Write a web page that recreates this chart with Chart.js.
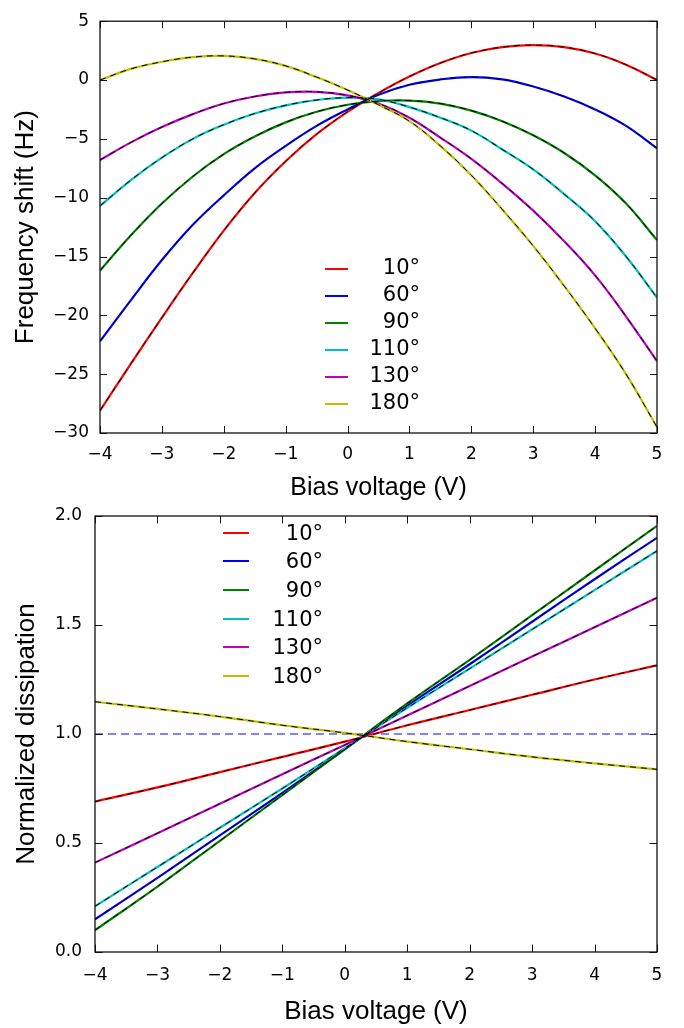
<!DOCTYPE html>
<html><head><meta charset="utf-8">
<script src="https://cdn.jsdelivr.net/npm/chart.js@4.4.1/dist/chart.umd.min.js"></script>
<style>
html,body{margin:0;padding:0;background:#fff;}
#wrap{position:relative;width:684px;height:1028px;overflow:hidden;background:#fff;}
canvas{position:absolute;left:0;top:0;}
.lg-line{position:absolute;height:2px;}
.lg-text{position:absolute;font-family:'DejaVu Sans',sans-serif;font-size:21px;line-height:24px;color:#000;text-align:right;white-space:nowrap;}
</style></head><body>
<div id="wrap">
<canvas id="c1" width="684" height="1028"></canvas>
<canvas id="c2" width="684" height="1028"></canvas>
</div>
<script>
// ---- series labels / colours ----
const angles = ['10°', '60°', '90°', '110°', '130°', '180°'];
const colors = ['#ff0000', '#0000ff', '#008000', '#00bfbf', '#bf00bf', '#bfbf00'];

// ---- top panel: frequency shift (Hz) vs bias voltage (V) ----
const biasTop = [-4, -3.5, -3, -2.5, -2, -1.5, -1, -0.5, 0, 0.5, 1, 1.5, 2, 2.5, 3, 3.5, 4, 4.5, 5];
const shift10  = [-28.1, -24.1, -20.2, -16.4, -12.8, -9.6, -6.9, -4.6, -2.7, -1.1, 0.3, 1.45, 2.3, 2.8, 2.97, 2.8, 2.25, 1.3, 0.0];
const shift60  = [-22.2, -18.7, -15.3, -12.3, -9.8, -7.5, -5.6, -3.9, -2.5, -1.25, -0.4, 0.05, 0.25, 0.05, -0.55, -1.4, -2.5, -3.9, -5.8];
const shift90  = [-16.2, -13.2, -10.5, -8.2, -6.3, -4.8, -3.6, -2.7, -2.1, -1.8, -1.75, -2.0, -2.6, -3.5, -4.7, -6.2, -8.1, -10.5, -13.6];
const shift110 = [-10.7, -8.5, -6.6, -5.0, -3.8, -2.85, -2.15, -1.7, -1.5, -1.65, -2.3, -3.2, -4.3, -5.9, -7.6, -9.7, -12.0, -15.0, -18.5];
const shift130 = [-6.8, -5.3, -4.0, -2.9, -2.0, -1.4, -1.05, -1.0, -1.3, -2.0, -3.2, -4.9, -6.7, -8.8, -11.1, -13.7, -16.6, -20.1, -23.9];
const shift180 = [0.0, 0.95, 1.55, 1.95, 2.05, 1.8, 1.2, 0.25, -0.85, -2.1, -3.5, -5.6, -8.1, -11.0, -14.1, -17.5, -21.1, -25.0, -29.5];
const shiftTicks = [-30, -25, -20, -15, -10, -5, 0, 5];

// ---- bottom panel: normalized dissipation vs bias voltage (V) ----
const biasBottom = [-4, -3, -2, -1, 0, 1, 2, 3, 4, 5];
const diss10  = [0.69, 0.755, 0.825, 0.895, 0.965, 1.04, 1.11, 1.18, 1.25, 1.315];
const diss60  = [0.15, 0.34, 0.535, 0.73, 0.93, 1.13, 1.32, 1.515, 1.71, 1.90];
const diss90  = [0.10, 0.30, 0.51, 0.72, 0.93, 1.14, 1.34, 1.545, 1.75, 1.955];
const diss110 = [0.21, 0.39, 0.57, 0.75, 0.935, 1.12, 1.30, 1.48, 1.66, 1.84];
const diss130 = [0.41, 0.545, 0.68, 0.815, 0.95, 1.085, 1.22, 1.355, 1.49, 1.625];
const diss180 = [1.148, 1.115, 1.08, 1.04, 1.005, 0.965, 0.93, 0.895, 0.865, 0.838];
const refBias = [-4, 5];
const refLevel = [1.0, 1.0];
const voltTicks = [-4, -3, -2, -1, 0, 1, 2, 3, 4, 5];

const topSeries = [shift10, shift60, shift90, shift110, shift130, shift180];
const botSeries = [diss10, diss60, diss90, diss110, diss130, diss180];

function pts(xs, ys) { return xs.map((x, i) => ({x: x, y: ys[i]})); }
function minus(v) { return v < 0 ? '\u2212' + Math.abs(v) : String(v); }

const frameTicks = {
  id: 'frameTicks',
  afterDatasetsDraw(chart, args, opts) {
    const ctx = chart.ctx;
    const {left, right, top, bottom} = chart.chartArea;
    const xs = chart.scales.x, ys = chart.scales.y;
    const L = opts.len || 7;
    ctx.save();
    ctx.strokeStyle = '#111';
    ctx.lineWidth = 1;
    ctx.beginPath();
    xs.ticks.forEach(t => {
      const p = Math.round(xs.getPixelForValue(t.value)) + 0.5;
      ctx.moveTo(p, bottom); ctx.lineTo(p, bottom - L);
      ctx.moveTo(p, top); ctx.lineTo(p, top + L);
    });
    ys.ticks.forEach(t => {
      const p = Math.round(ys.getPixelForValue(t.value)) + 0.5;
      ctx.moveTo(left, p); ctx.lineTo(left + L, p);
      ctx.moveTo(right, p); ctx.lineTo(right - L, p);
    });
    ctx.stroke();
    ctx.lineWidth = 1.3;
    ctx.strokeRect(left, top, right - left, bottom - top);
    ctx.restore();
  }
};

function buildDatasets(xs, series) {
  const ds = [];
  series.forEach((ys, i) => {
    ds.push({label: angles[i], data: pts(xs, ys), borderColor: colors[i], borderWidth: 2.2,
             showLine: true, pointRadius: 0, tension: 0.4, order: 10 - i});
  });
  series.forEach((ys, i) => {
    ds.push({label: 'fit ' + angles[i], data: pts(xs, ys), borderColor: '#000', borderWidth: 1,
             borderDash: [6, 5], showLine: true, pointRadius: 0, tension: 0.4, order: 0});
  });
  return ds;
}

const tickFont = {family: 'DejaVu Sans', size: 17};
const titleFont = (s) => ({family: 'Liberation Sans', size: s});

// ---- top chart ----
new Chart(document.getElementById('c1'), {
  type: 'scatter',
  data: {datasets: buildDatasets(biasTop, topSeries)},
  options: {
    responsive: false, animation: false, devicePixelRatio: 1,
    layout: {padding: {left: 0, top: 14, right: 27, bottom: 525}},
    plugins: {legend: {display: false}, tooltip: {enabled: false}, frameTicks: {len: 7}},
    scales: {
      x: {type: 'linear', position: 'bottom', min: -4, max: 5,
          afterBuildTicks: s => { s.ticks = voltTicks.map(v => ({value: v})); },
          ticks: {padding: 11, font: tickFont, color: '#000', callback: minus, maxRotation: 0},
          grid: {display: false, drawTicks: false}, border: {display: false},
          title: {display: true, text: 'Bias voltage (V)', font: titleFont(25), color: '#000', padding: {top: 0, bottom: 0}},
          afterFit: s => { s.height = 70; }},
      y: {type: 'linear', min: -30, max: 5,
          afterBuildTicks: s => { s.ticks = shiftTicks.map(v => ({value: v})); },
          ticks: {padding: 11, font: tickFont, color: '#000', callback: minus},
          grid: {display: false, drawTicks: false}, border: {display: false},
          title: {display: true, text: 'Frequency shift (Hz)', font: titleFont(26), color: '#000', padding: {top: 10.4, bottom: 0}},
          afterFit: s => { s.width = 100; }}
    }
  },
  plugins: [frameTicks]
});

// ---- bottom chart ----
const botDs = buildDatasets(biasBottom, botSeries);
botDs.push({label: 'ref', data: pts(refBias, refLevel), borderColor: 'rgba(0,0,255,0.65)', borderWidth: 1.5,
            borderDash: [8, 5], showLine: true, pointRadius: 0, order: 20});
const dissTicks = [0, 0.5, 1.0, 1.5, 2.0];
new Chart(document.getElementById('c2'), {
  type: 'scatter',
  data: {datasets: botDs},
  options: {
    responsive: false, animation: false, devicePixelRatio: 1,
    layout: {padding: {left: 0, top: 516, right: 27, bottom: 1}},
    plugins: {legend: {display: false}, tooltip: {enabled: false}, frameTicks: {len: 7.5}},
    scales: {
      x: {type: 'linear', position: 'bottom', min: -4, max: 5,
          afterBuildTicks: s => { s.ticks = voltTicks.map(v => ({value: v})); },
          ticks: {padding: 13, font: tickFont, color: '#000', callback: minus, maxRotation: 0},
          grid: {display: false, drawTicks: false}, border: {display: false},
          title: {display: true, text: 'Bias voltage (V)', font: titleFont(26), color: '#000', padding: {top: 0, bottom: 0}},
          afterFit: s => { s.height = 75; }},
      y: {type: 'linear', min: 0, max: 2,
          afterBuildTicks: s => { s.ticks = dissTicks.map(v => ({value: v})); },
          ticks: {padding: 13, font: tickFont, color: '#000', callback: v => v.toFixed(1)},
          grid: {display: false, drawTicks: false}, border: {display: false},
          title: {display: true, text: 'Normalized dissipation', font: titleFont(26), color: '#000', padding: {top: 11, bottom: 0}},
          afterFit: s => { s.width = 95; }}
    }
  },
  plugins: [frameTicks]
});

// ---- in-plot legends (real text) ----
function legend(x0, x1, textRight, y0, dy, textShift) {
  const wrap = document.getElementById('wrap');
  angles.forEach((a, i) => {
    const y = y0 + i * dy;
    const ln = document.createElement('div');
    ln.className = 'lg-line';
    ln.style.left = x0 + 'px'; ln.style.width = (x1 - x0) + 'px';
    ln.style.top = (y - 1) + 'px'; ln.style.background = colors[i];
    wrap.appendChild(ln);
    const tx = document.createElement('div');
    tx.className = 'lg-text';
    tx.textContent = a;
    tx.style.right = (684 - textRight) + 'px';
    tx.style.top = (y - 12 + textShift) + 'px';
    wrap.appendChild(tx);
  });
}
legend(325, 348, 420, 269, 27, -2);
legend(223, 249, 323, 532.5, 28.7, 0);
</script>
</body></html>
